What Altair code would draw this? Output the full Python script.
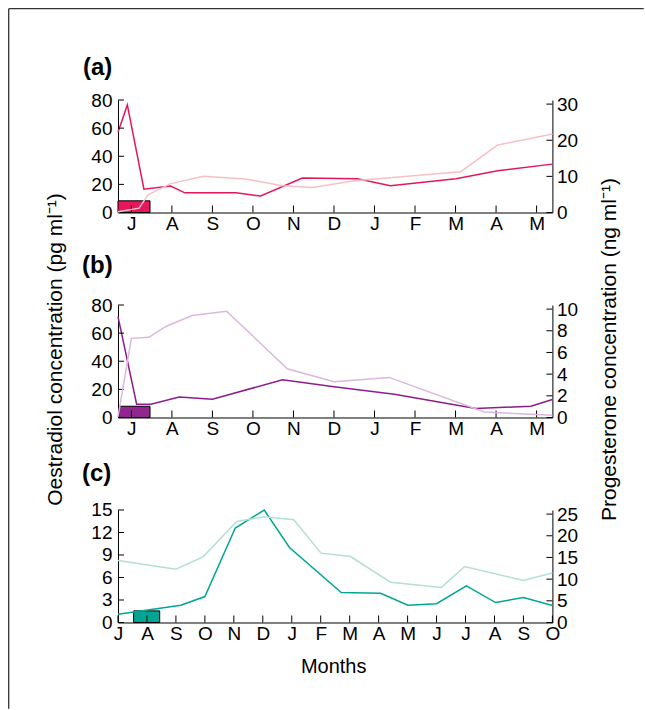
import altair as alt
import pandas as pd

# ---------------- data ----------------
panel_labels = ["(a)", "(b)", "(c)"]
months_ab = ["J", "A", "S", "O", "N", "D", "J", "F", "M", "A", "M"]
months_c = ["J", "A", "S", "O", "N", "D", "J", "F", "M", "A", "M", "J", "J", "A", "S", "O"]

# panel (a)
a_oe_m = [-0.33, -0.1, 0.31, 0.97, 1.32, 2.58, 3.19, 4.22, 5.58, 6.39, 8.01, 9.04, 10.39]
a_oe_v = [57, 76.5, 16.6, 18.8, 14, 14, 11.7, 24.5, 24, 19, 24, 29.7, 34.4]
a_pr_m = [-0.33, 0.19, 0.41, 0.97, 1.78, 2.82, 3.73, 4.47, 5.5, 8.13, 9.04, 10.39]
a_pr_v = [0.2, 1.2, 4.9, 8.0, 10.0, 9.3, 7.4, 6.9, 8.8, 11.3, 18.7, 21.7]
a_box = [-0.33, 0.46, 8.3]  # start month, end month, top (pg/ml)

# panel (b)
b_oe_m = [-0.33, 0.13, 0.48, 1.18, 2.0, 3.73, 5.0, 6.49, 8.5, 9.86, 10.39]
b_oe_v = [71.7, 9.5, 9.5, 14.5, 13, 26.8, 21.8, 16.6, 6.4, 8.0, 12.8]
b_pr_m = [-0.33, 0.0, 0.43, 0.85, 1.5, 2.35, 3.85, 5.0, 6.36, 8.71, 10.39]
b_pr_v = [0.05, 7.3, 7.4, 8.4, 9.4, 9.8, 4.5, 3.3, 3.7, 0.5, 0.2]
b_box = [-0.31, 0.46, 8.0]

# panel (c)
c_oe_m = [0, 2.17, 3.0, 4.05, 5.05, 5.92, 7.71, 9.07, 10.01, 11.0, 12.03, 13.04, 14.0, 15.0]
c_oe_v = [1.1, 2.3, 3.46, 12.6, 15.0, 10.0, 4.0, 3.9, 2.3, 2.5, 4.9, 2.66, 3.33, 2.26]
c_pr_m = [0, 2.0, 2.95, 4.1, 5.05, 6.07, 7.01, 8.03, 9.41, 11.17, 11.97, 13.99, 15.0]
c_pr_v = [14.3, 12.3, 15.2, 23.3, 24.4, 23.7, 16.0, 15.2, 9.3, 8.1, 12.9, 9.7, 11.4]
c_box = [0.54, 1.44, 1.55]

a_left_ticks = [0, 20, 40, 60, 80]
a_right_ticks = [0, 10, 20, 30]
b_left_ticks = [0, 20, 40, 60, 80]
b_right_ticks = [0, 2, 4, 6, 8, 10]
c_left_ticks = [0, 3, 6, 9, 12, 15]
c_right_ticks = [0, 5, 10, 15, 20, 25]

left_title = "Oestradiol concentration (pg ml\u207b\u00b9)"
right_title = "Progesterone concentration (ng ml\u207b\u00b9)"
x_title = "Months"

# ---------------- styling ----------------
W, H = 434.4, 112.5
FONT = "Liberation Sans"
LFS = 19   # tick label font size
TFS = 21   # axis title font size
RFAC = 112.5 / 108.4  # right axis top tick sits a little lower than the left one

common = dict(ticks=False, grid=False, labelFlush=False, labelOverlap=False,
              domainColor="black", domainWidth=1, labelFont=FONT, labelFontSize=LFS,
              labelColor="black", titleFont=FONT, titleFontSize=TFS,
              titleFontWeight="normal", titleColor="black")


def panel(label, lab_x, lab_y, months, xdom, left_max, left_ticks, right_max, right_ticks,
          oe_m, oe_v, pr_m, pr_v, box, dark, light, boxfill,
          ltitle=None, rtitle=None, xtitle=None, frame=False):
    arr = "[" + ",".join("'%s'" % m for m in months) + "]"
    xkw = dict(common, values=list(range(len(months))), labelExpr=arr + "[datum.value]",
               labelPadding=2, labelBound=False, labelAngle=0)
    if xtitle:
        xkw.update(title=xtitle, titleY=50, titleX=W / 2 - 2, titleBaseline="alphabetic",
                   titleFontSize=20)
    else:
        xkw.update(title="")
    xaxis = alt.Axis(**xkw)
    xscale = alt.Scale(domain=xdom, nice=False, zero=False)

    lkw = dict(common, orient="left", values=left_ticks, labelPadding=6)
    if ltitle:
        lkw.update(title=ltitle, titleAngle=270, titleX=-56, titleY=44,
                   titleBaseline="alphabetic", titleAlign="center")
    else:
        lkw.update(title="")
    laxis = alt.Axis(**lkw)
    lscale = alt.Scale(domain=[0, left_max], nice=False, zero=True)

    rkw = dict(common, orient="right", values=right_ticks, labelPadding=4)
    if rtitle:
        rkw.update(title=rtitle, titleAngle=270, titleX=63, titleY=44,
                   titleBaseline="alphabetic", titleAlign="center")
    else:
        rkw.update(title="")
    raxis = alt.Axis(**rkw)
    rscale = alt.Scale(domain=[0, right_max * RFAC], nice=False, zero=True)

    box_df = pd.DataFrame({"m0": [box[0]], "m1": [box[1]], "v0": [0], "v1": [box[2]]})
    oe_df = pd.DataFrame({"m": oe_m, "v": oe_v})
    pr_df = pd.DataFrame({"m": pr_m, "v": pr_v})
    xt_df = pd.DataFrame({"m": list(range(len(months)))})
    lt_df = pd.DataFrame({"v": left_ticks})
    rt_df = pd.DataFrame({"v": right_ticks})
    lab_df = pd.DataFrame({"label": [label]})

    boxm = alt.Chart(box_df).mark_rect(fill=boxfill, stroke="black", strokeWidth=1).encode(
        x=alt.X("m0:Q", scale=xscale, axis=xaxis), x2="m1:Q",
        y=alt.Y("v0:Q", scale=lscale, axis=laxis), y2="v1:Q")
    oe = alt.Chart(oe_df).mark_line(color=dark, strokeWidth=1.5).encode(
        x=alt.X("m:Q", scale=xscale, axis=xaxis),
        y=alt.Y("v:Q", scale=lscale, axis=laxis))
    xt = alt.Chart(xt_df).mark_rule(color="black", strokeWidth=1).encode(
        x=alt.X("m:Q", scale=xscale, axis=xaxis), y=alt.value(H), y2=alt.value(H - 7))
    lt = alt.Chart(lt_df).mark_rule(color="black", strokeWidth=1).encode(
        y=alt.Y("v:Q", scale=lscale, axis=laxis), x=alt.value(0), x2=alt.value(6))
    lab = alt.Chart(lab_df).mark_text(align="left", baseline="alphabetic", font=FONT,
                                      fontSize=24, fontWeight="bold", color="black").encode(
        x=alt.value(lab_x), y=alt.value(lab_y), text="label:N")
    left_layers = [boxm, oe, xt, lt, lab]
    if frame:
        fdf = pd.DataFrame({"k": [0]})
        fx, fy = -109.3, -91.3
        top = alt.Chart(fdf).mark_rule(color="#333333", strokeWidth=1.3).encode(
            x=alt.value(fx), x2=alt.value(643 - 117.3), y=alt.value(fy))
        side = alt.Chart(fdf).mark_rule(color="#333333", strokeWidth=1.3).encode(
            x=alt.value(fx), y=alt.value(fy), y2=alt.value(708 - 99.3))
        left_layers += [top, side]
    left = alt.layer(*left_layers)

    pr = alt.Chart(pr_df).mark_line(color=light, strokeWidth=1.5).encode(
        x=alt.X("m:Q", scale=xscale, axis=xaxis),
        y=alt.Y("v:Q", scale=rscale, axis=raxis))
    rt = alt.Chart(rt_df).mark_rule(color="black", strokeWidth=1).encode(
        y=alt.Y("v:Q", scale=rscale, axis=raxis), x=alt.value(W - 6), x2=alt.value(W))
    right = alt.layer(pr, rt)

    return alt.layer(left, right).resolve_scale(y="independent").properties(width=W, height=H)


pa = panel(panel_labels[0], -35, -25, months_ab, [-0.33, 10.39], 80, a_left_ticks, 30,
           a_right_ticks, a_oe_m, a_oe_v, a_pr_m, a_pr_v, a_box,
           "#E3175B", "#F8C0C5", "#E8175D", frame=True)
pb = panel(panel_labels[1], -36, -32, months_ab, [-0.33, 10.39], 80, b_left_ticks, 10,
           b_right_ticks, b_oe_m, b_oe_v, b_pr_m, b_pr_v, b_box,
           "#8C1D8A", "#DAB8DC", "#91268F", ltitle=left_title, rtitle=right_title)
pc = panel(panel_labels[2], -36, -29, months_c, [0, 15], 15, c_left_ticks, 25,
           c_right_ticks, c_oe_m, c_oe_v, c_pr_m, c_pr_v, c_box,
           "#00A693", "#B2DFD8", "#00A693", xtitle=x_title)

chart = alt.vconcat(pa, pb, pc, spacing=92, bounds="flush",
                    padding={"left": 8, "top": 8, "right": 0, "bottom": 0},
                    background="white").configure_view(stroke=None)

chart.save("out.html", embed_options={"renderer": "svg", "actions": False})
